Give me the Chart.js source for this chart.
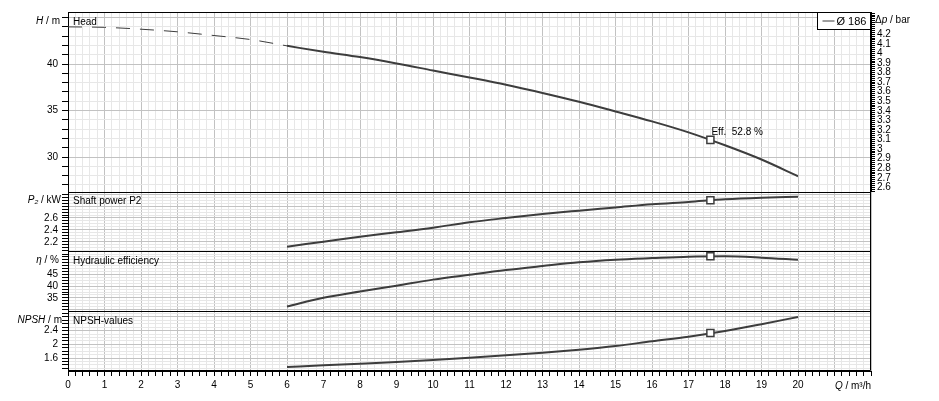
<!DOCTYPE html>
<html>
<head>
<meta charset="utf-8">
<title>Pump curve</title>
<script src="https://cdn.jsdelivr.net/npm/chart.js@4.4.1/dist/chart.umd.min.js"></script>
<style>
  html, body { margin: 0; padding: 0; background: #fff; }
  #wrap { width: 939px; height: 401px; }
</style>
</head>
<body>
<div id="wrap"><canvas id="pumpChart" width="939" height="401"></canvas></div>
<script>
// flow Q in m³/h for the solid part of the curves
const flowQ = [6, 7, 8, 9, 10, 11, 12, 13, 14, 15, 16, 17, 18, 19, 20];
const headH = [41.96, 41.32, 40.75, 40.07, 39.31, 38.56, 37.78, 36.9, 35.95, 34.91, 33.84, 32.66, 31.27, 29.74, 27.94];
const powerP2 = [2.118, 2.202, 2.286, 2.36, 2.437, 2.528, 2.6, 2.667, 2.723, 2.776, 2.83, 2.869, 2.914, 2.941, 2.958];
const effEta = [31.3, 35.0, 37.7, 40.2, 42.8, 44.9, 46.9, 48.6, 50.2, 51.3, 52.0, 52.6, 52.75, 52.2, 51.3];
const npshM = [1.335, 1.385, 1.432, 1.482, 1.541, 1.608, 1.679, 1.755, 1.843, 1.95, 2.09, 2.224, 2.39, 2.59, 2.8];

// dashed extension of the head curve towards Q = 0
const headExtQ = [0, 1, 2, 3, 4, 5, 6];
const headExtH = [44.0, 43.95, 43.75, 43.47, 43.07, 42.64, 41.96];

// duty point
const dutyQ = 17.6;
const dutyH = 31.85;
const dutyP2 = 2.897;
const dutyEta = 52.8;
const dutyNpsh = 2.33;

// tick labels
const qTickLabels = [0, 1, 2, 3, 4, 5, 6, 7, 8, 9, 10, 11, 12, 13, 14, 15, 16, 17, 18, 19, 20];
const headTickLabels = [30, 35, 40];
const dpTickLabels = [2.6, 2.7, 2.8, 2.9, 3, 3.1, 3.2, 3.3, 3.4, 3.5, 3.6, 3.7, 3.8, 3.9, 4, 4.1, 4.2];
const powerTickLabels = [2.2, 2.4, 2.6];
const effTickLabels = [35, 40, 45];
const npshTickLabels = [1.6, 2, 2.4];

const FONT = '"Liberation Sans", Arial, sans-serif';
const MAJOR = '#c2c2c2';
const MINOR = '#e7e7e7';
const CURVE = '#3d3d3d';

Chart.defaults.font.family = FONT;
Chart.defaults.font.size = 10;
Chart.defaults.color = '#000';

function isMultiple(v, m) {
  const r = v / m;
  return Math.abs(r - Math.round(r)) < 1e-6;
}

function showLabel(v, list) {
  const t = list.find(t => Math.abs(t - v) < 1e-6);
  return t === undefined ? '' : String(t);
}

function pts(xs, ys) {
  return xs.map((x, i) => ({x: x, y: ys[i]}));
}

function leftAxis(min, max, step, major, labels, weight, stackWeight) {
  return {
    type: 'linear',
    position: 'left',
    stack: 'panels',
    weight: weight,
    stackWeight: stackWeight,
    min: min,
    max: max,
    border: {color: '#000'},
    grid: {
      color: c => isMultiple(c.tick.value, major) ? MAJOR : MINOR,
      tickColor: '#000',
      tickLength: 6
    },
    ticks: {
      stepSize: step,
      autoSkip: false,
      includeBounds: false,
      padding: 4,
      callback: v => showLabel(v, labels)
    },
    afterFit: s => { s.width = 68; }
  };
}

function rightDummy(weight) {
  return {type: 'linear', position: 'right', stack: 'rside', weight: weight, stackWeight: 1, display: false};
}

function curve(data, axis) {
  return {
    data: data, yAxisID: axis, borderColor: CURVE, borderWidth: 2,
    pointRadius: 0, cubicInterpolationMode: 'monotone', order: 1
  };
}

function duty(y, axis) {
  return {
    data: [{x: dutyQ, y: y}], yAxisID: axis, showLine: false, order: 0,
    pointStyle: 'rect', pointRadius: 5, pointBackgroundColor: '#fff',
    pointBorderColor: CURVE, pointBorderWidth: 1.5
  };
}

function rich(ctx, parts, x, y, size, align) {
  const fonts = parts.map(p => (p.i ? 'italic ' : '') + (p.s || size) + 'px ' + FONT);
  let total = 0;
  const widths = parts.map((p, k) => { ctx.font = fonts[k]; const w = ctx.measureText(p.t).width; total += w; return w; });
  let cx = align === 'right' ? x - total : x;
  ctx.textAlign = 'left';
  ctx.textBaseline = 'middle';
  parts.forEach((p, k) => {
    ctx.font = fonts[k];
    ctx.fillText(p.t, cx, y + (p.dy || 0));
    cx += widths[k];
  });
}

const panelDecor = {
  id: 'panelDecor',
  beforeDatasetsDraw(chart) {
    const {ctx, chartArea: a, scales} = chart;
    ctx.save();
    ctx.strokeStyle = '#000';
    ctx.lineWidth = 1;
    const l = Math.round(a.left) + 0.5, r = Math.round(a.right) - 0.5;
    const ys = ['yHead', 'yPower', 'yEff', 'yNpsh'].map(id => Math.round(scales[id].top) + 0.5);
    ys.push(Math.round(a.bottom) - 0.5);
    ctx.beginPath();
    for (const y of ys) {
      ctx.moveTo(l, y);
      ctx.lineTo(r, y);
    }
    ctx.moveTo(l, ys[0]);
    ctx.lineTo(l, ys[ys.length - 1]);
    ctx.moveTo(r, ys[0]);
    ctx.lineTo(r, ys[ys.length - 1]);
    ctx.stroke();
    ctx.restore();
  },
  afterDraw(chart) {
    const {ctx, chartArea: a, scales} = chart;
    ctx.save();
    ctx.fillStyle = '#000';

    // axis titles
    rich(ctx, [{t: 'H', i: true}, {t: ' / m'}], 60, scales.yHead.top + 9, 10, 'right');
    rich(ctx, [{t: 'P', i: true}, {t: '₂', i: true}, {t: ' / kW'}], 61, scales.yPower.top + 9, 10, 'right');
    rich(ctx, [{t: 'η', i: true}, {t: ' / %'}], 59, scales.yEff.top + 9, 10, 'right');
    rich(ctx, [{t: 'NPSH', i: true}, {t: ' / m'}], 62, scales.yNpsh.top + 9, 10, 'right');
    rich(ctx, [{t: 'Δ'}, {t: 'p', i: true}, {t: ' / bar'}], a.right + 4, scales.yHead.top + 8, 10, 'left');
    rich(ctx, [{t: 'Q', i: true}, {t: ' / m³/h'}], a.right, 386, 10, 'right');

    // panel titles
    rich(ctx, [{t: 'Head'}], a.left + 5, scales.yHead.top + 10, 10, 'left');
    rich(ctx, [{t: 'Shaft power P2'}], a.left + 5, scales.yPower.top + 10, 10, 'left');
    rich(ctx, [{t: 'Hydraulic efficiency'}], a.left + 5, scales.yEff.top + 10, 10, 'left');
    rich(ctx, [{t: 'NPSH-values'}], a.left + 5, scales.yNpsh.top + 10, 10, 'left');

    // duty point label
    const px = scales.x.getPixelForValue(dutyQ);
    const py = scales.yHead.getPixelForValue(dutyH);
    rich(ctx, [{t: 'Eff.  ' + dutyEta + ' %'}], px + 1, py - 8, 10, 'left');

    // legend box
    const lx = Math.round(a.right) - 53.5, ly = Math.round(a.top) + 0.5;
    ctx.fillStyle = '#fff';
    ctx.fillRect(lx, ly, 53, 17);
    ctx.strokeStyle = '#000';
    ctx.lineWidth = 1;
    ctx.strokeRect(lx, ly, 53, 17);
    ctx.strokeStyle = CURVE;
    ctx.beginPath();
    ctx.moveTo(lx + 5, ly + 8.5);
    ctx.lineTo(lx + 17, ly + 8.5);
    ctx.stroke();
    ctx.fillStyle = '#000';
    rich(ctx, [{t: 'Ø 186'}], lx + 19, ly + 9, 11, 'left');
    ctx.restore();
  }
};

const chart = new Chart(document.getElementById('pumpChart'), {
  type: 'line',
  data: {
    datasets: [
      duty(dutyH, 'yHead'),
      duty(dutyP2, 'yPower'),
      duty(dutyEta, 'yEff'),
      duty(dutyNpsh, 'yNpsh'),
      Object.assign(curve(pts(headExtQ, headExtH), 'yHead'), {borderWidth: 1, borderDash: [14, 10]}),
      curve(pts(flowQ, headH), 'yHead'),
      curve(pts(flowQ, powerP2), 'yPower'),
      curve(pts(flowQ, effEta), 'yEff'),
      curve(pts(flowQ, npshM), 'yNpsh')
    ]
  },
  options: {
    responsive: false,
    animation: false,
    events: [],
    layout: {padding: {top: 12, left: 0, right: 0, bottom: 0}},
    plugins: {legend: {display: false}, tooltip: {enabled: false}},
    scales: {
      x: {
        type: 'linear',
        min: 0,
        max: 22,
        border: {color: '#000'},
        grid: {
          color: c => isMultiple(c.tick.value, 1) ? MAJOR : MINOR,
          tickColor: '#000',
          tickLength: 5
        },
        ticks: {
          stepSize: 0.2,
          autoSkip: false,
          includeBounds: false,
          maxRotation: 0,
          padding: 3,
          callback: v => showLabel(v, qTickLabels)
        },
        afterFit: s => { s.height = 30; }
      },
      yHead: leftAxis(26.3, 45.6, 1, 5, headTickLabels, 4, 3),
      yPower: leftAxis(2.04, 3.045, 0.05, 0.2, powerTickLabels, 3, 1),
      yEff: leftAxis(29.3, 54.9, 1.25, 5, effTickLabels, 2, 1),
      yNpsh: leftAxis(1.22, 2.97, 0.1, 0.4, npshTickLabels, 1, 1),
      yDp: {
        type: 'linear',
        position: 'right',
        stack: 'rside',
        weight: 1,
        stackWeight: 3,
        min: 2.557,
        max: 4.432,
        border: {color: '#000'},
        grid: {drawOnChartArea: false, tickColor: '#000', tickLength: 4},
        ticks: {
          stepSize: 0.02,
          autoSkip: false,
          includeBounds: false,
          padding: 2,
          callback: v => showLabel(v, dpTickLabels)
        },
        afterFit: s => { s.width = 68; }
      },
      yR2: rightDummy(2),
      yR3: rightDummy(3),
      yR4: rightDummy(4)
    }
  },
  plugins: [panelDecor]
});
</script>
</body>
</html>
